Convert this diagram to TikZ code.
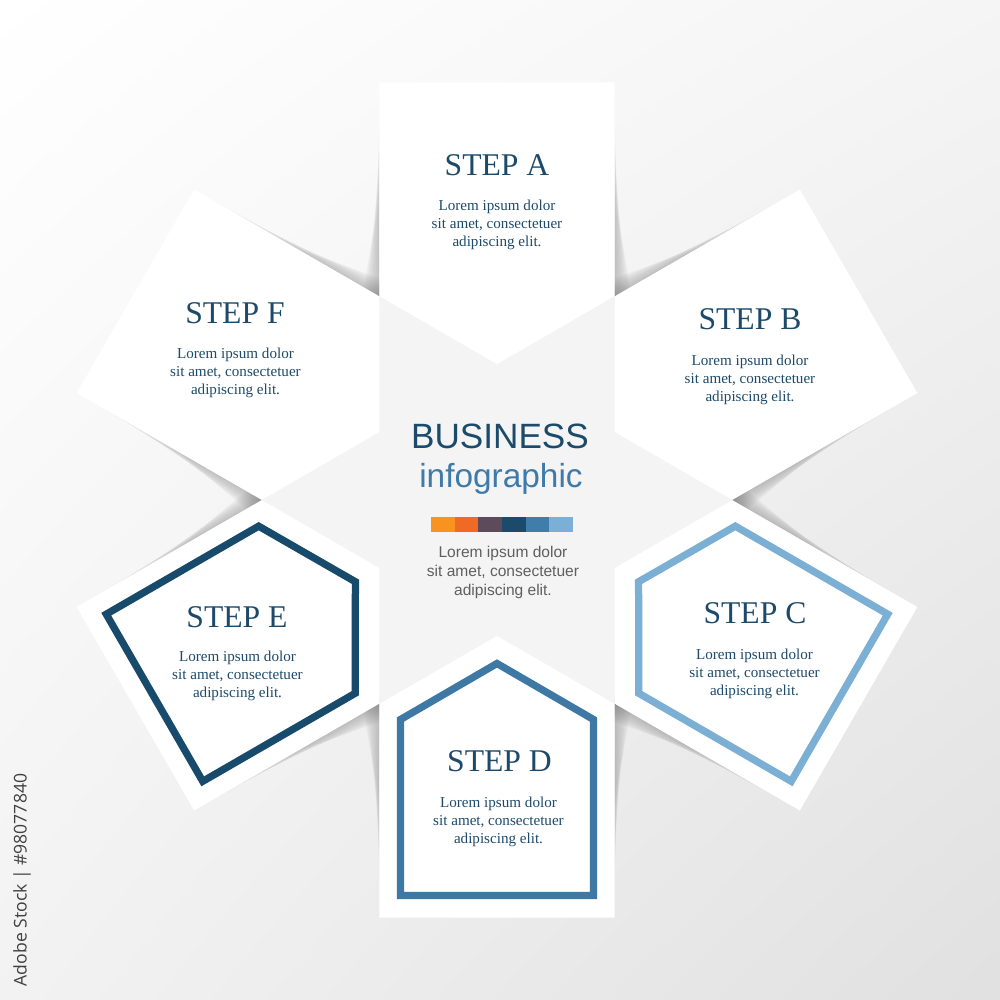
\documentclass[tikz,border=0pt]{standalone}
\usepackage{fontspec}
\setmainfont{Liberation Serif}
\setsansfont{Liberation Sans}
\newfontfamily\stockfont{Open Sans}
\usetikzlibrary{positioning,shadings}
\definecolor{StepBlue}{HTML}{1D4A6A}
\definecolor{FrameLight}{HTML}{7BAFD4}
\definecolor{FrameMid}{HTML}{3E78A4}
\definecolor{FrameDark}{HTML}{174A6B}
\definecolor{InfoBlue}{HTML}{3E7BAB}
\definecolor{CoreGrey}{HTML}{F4F4F4}
\definecolor{TextGrey}{HTML}{5F5F5F}
\definecolor{BarOrange}{HTML}{F7931E}
\definecolor{BarRed}{HTML}{EE6A25}
\definecolor{BarPlum}{HTML}{5D4B5C}
\definecolor{BarNavy}{HTML}{1B4A6B}
\definecolor{BarBlue}{HTML}{3F7DAA}
\definecolor{BarSky}{HTML}{7BAFD6}

\begin{document}
\begin{tikzpicture}[
    strip/.style={fill=white},
    shadowlayer/.style={fill=black, opacity=0.022},
    frame/.style={line width=0.145cm},
    steptitle/.style={text=StepBlue, font=\fontsize{18}{21}\selectfont},
    steptext/.style={text=StepBlue, align=center, font=\fontsize{8.6}{10.2}\selectfont},
    barcell/.style={minimum width=0.47cm, minimum height=0.31cm, inner sep=0pt, outer sep=0pt}
  ]
    % page
    \useasboundingbox (-9.94,-10) rectangle (10.06,10);
    \shade[upper left=white, upper right=black!4, lower left=black!5, lower right=black!12] (-9.94,-10) rectangle (10.06,10);

    % shadows along the strip sides, darkest at the shoulders
    \foreach \a in {90,30,-30,-90,-150,150}
      \foreach \k in {1,...,9} {
        \fill[shadowlayer, rotate=\a] (3.9,2.35) -- (8.3-0.26*\k,2.35) -- (4.07,2.35+0.04*\k) -- cycle;
        \fill[shadowlayer, rotate=\a] (3.9,-2.35) -- (8.3-0.26*\k,-2.35) -- (4.07,-2.35-0.04*\k) -- cycle;
      }

    % strips and centre star
    \foreach \a in {90,30,-30,-90,-150,150}
      \fill[rotate=\a, strip] (2.713,0) -- (4.07,2.35) -- (8.35,2.35) -- (8.35,-2.35) -- (4.07,-2.35) -- cycle;
    \fill[CoreGrey] (0:4.7) -- (30:2.713) -- (60:4.7) -- (90:2.713) -- (120:4.7) -- (150:2.713)
      -- (180:4.7) -- (210:2.713) -- (240:4.7) -- (270:2.713) -- (300:4.7) -- (330:2.713) -- cycle;

    % frames
    \draw[frame, draw=FrameLight, rotate=-30] (3.27,0) -- (4.39,1.93) -- (7.91,1.93) -- (7.91,-1.93) -- (4.39,-1.93) -- cycle;
    \draw[frame, draw=FrameMid, rotate=-90] (3.27,0) -- (4.39,1.93) -- (7.91,1.93) -- (7.91,-1.93) -- (4.39,-1.93) -- cycle;
    \draw[frame, draw=FrameDark, rotate=-150] (3.27,0) -- (4.39,1.93) -- (7.91,1.93) -- (7.91,-1.93) -- (4.39,-1.93) -- cycle;

    % steps
    \node[steptitle] (titleA) at (0,6.69) {STEP A};
    \node[steptext] (textA) at (0,5.5) {Lorem ipsum dolor\\sit amet, consectetuer\\adipiscing elit.};
    \node[steptitle] (titleB) at (5.06,3.61) {STEP B};
    \node[steptext] (textB) at (5.06,2.4) {Lorem ipsum dolor\\sit amet, consectetuer\\adipiscing elit.};
    \node[steptitle] (titleC) at (5.16,-2.27) {STEP C};
    \node[steptext] (textC) at (5.15,-3.48) {Lorem ipsum dolor\\sit amet, consectetuer\\adipiscing elit.};
    \node[steptitle] (titleD) at (0.05,-5.22) {STEP D};
    \node[steptext] (textD) at (0.03,-6.44) {Lorem ipsum dolor\\sit amet, consectetuer\\adipiscing elit.};
    \node[steptitle] (titleE) at (-5.2,-2.34) {STEP E};
    \node[steptext] (textE) at (-5.19,-3.52) {Lorem ipsum dolor\\sit amet, consectetuer\\adipiscing elit.};
    \node[steptitle] (titleF) at (-5.24,3.74) {STEP F};
    \node[steptext] (textF) at (-5.23,2.54) {Lorem ipsum dolor\\sit amet, consectetuer\\adipiscing elit.};

    % centre
    \node[anchor=base, text=BarNavy, font=\sffamily\fontsize{20}{24}\selectfont] (business) at (0.06,1.04) {BUSINESS};
    \node[anchor=base, text=InfoBlue, font=\sffamily\fontsize{19}{23}\selectfont] (info) at (0.08,0.26) {infographic};
    \node[barcell, fill=BarOrange, anchor=north west] (bar1) at (-1.31,-0.334) {};
    \node[barcell, fill=BarRed, right=0pt of bar1] (bar2) {};
    \node[barcell, fill=BarPlum, right=0pt of bar2] (bar3) {};
    \node[barcell, fill=BarNavy, right=0pt of bar3] (bar4) {};
    \node[barcell, fill=BarBlue, right=0pt of bar4] (bar5) {};
    \node[barcell, fill=BarSky, right=0pt of bar5] (bar6) {};
    \node[text=TextGrey, align=center, font=\sffamily\fontsize{8.85}{10.8}\selectfont] (centretext) at (0.12,-1.44) {Lorem ipsum dolor\\sit amet, consectetuer\\adipiscing elit.};

    \node[rotate=90, text=black!75, font=\stockfont\fontsize{10}{12}\selectfont] (stock) at (-9.5,-7.6) {Adobe Stock | \#98077840};
  \end{tikzpicture}
\end{document}
